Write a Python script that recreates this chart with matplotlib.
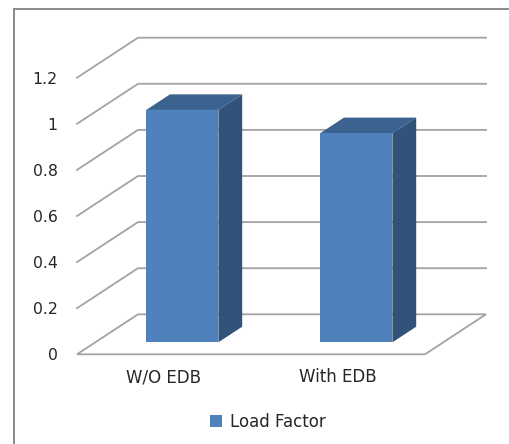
import matplotlib
matplotlib.use('Agg')
import matplotlib.pyplot as plt
from matplotlib.patches import Polygon, Rectangle

categories = ['W/O EDB', 'With EDB']
load_factor = [1.0, 0.9]
y_ticks = [0, 0.2, 0.4, 0.6, 0.8, 1, 1.2]
y_tick_labels = ['0', '0.2', '0.4', '0.6', '0.8', '1', '1.2']

W, H = 510, 444
FRONT_L, FRONT_R, FRONT_B, FRONT_T = 77, 425, 354.3, 77.7

# oblique offset of the back wall, in data units
DEPTH_X = 61 / 174
DEPTH_Y = 40 / ((FRONT_B - FRONT_T) / 1.2)
BAR_WIDTH = 0.415
BAR_D0, BAR_D1 = 0.30, 0.69
# bars sit nearer the viewer than the back wall, so they rise a little more
BAR_RISE = 1.008

FRONT = '#4f81bd'
TOP = '#3c6390'
SIDE = '#325379'
GRID = '#a3a3a3'
TEXT = '#262626'

plt.rcParams['font.family'] = ['DejaVu Sans']

fig = plt.figure(figsize=(W / 100, H / 100), dpi=100, facecolor='white')
ax = fig.add_axes([FRONT_L / W, 1 - FRONT_B / H, (FRONT_R - FRONT_L) / W, (FRONT_B - FRONT_T) / H])
ax.set_xlim(0, 2)
ax.set_ylim(0, 1.2)
ax.patch.set_visible(False)
for s in ax.spines.values():
    s.set_visible(False)

def shift(x, y, d):
    return x + d * DEPTH_X, y + d * DEPTH_Y

# chart frame, runs off the right and bottom edges
fig.add_artist(Rectangle((14 / W, -0.05), 1.1, 1 - 9 / H + 0.05, transform=fig.transFigure,
                         fill=False, edgecolor='#8a8a8a', linewidth=1.4))

# floor outline
floor = [shift(0, 0, 0), shift(2, 0, 0), shift(2, 0, 1), shift(0, 0, 1)]
ax.add_patch(Polygon(floor, closed=True, fill=False, edgecolor=GRID, linewidth=1.3, clip_on=False, zorder=1))

# side wall and back wall gridlines
for t in y_ticks[1:]:
    bx0, by0 = shift(0, t, 1)
    bx1, by1 = shift(2, t, 1)
    ax.plot([0, bx0, bx1], [t, by0, by1], color=GRID, linewidth=1.3, clip_on=False, zorder=1)

xpos = [i + 0.5 for i in range(len(categories))]
heights = [v * BAR_RISE for v in load_factor]
for x, v in zip(xpos, heights):
    l = x - BAR_WIDTH / 2
    r = x + BAR_WIDTH / 2
    a = shift(l, v, BAR_D0)
    b = shift(r, v, BAR_D0)
    c = shift(r, v, BAR_D1)
    d = shift(l, v, BAR_D1)
    e = shift(r, 0, BAR_D0)
    f = shift(r, 0, BAR_D1)
    ax.add_patch(Polygon([a, b, c, d], closed=True, facecolor=TOP, edgecolor='none', clip_on=False, zorder=3))
    ax.add_patch(Polygon([b, c, f, e], closed=True, facecolor=SIDE, edgecolor='none', clip_on=False, zorder=3))

bar_x = [shift(x, 0, BAR_D0)[0] for x in xpos]
bar_y0 = shift(0, 0, BAR_D0)[1]
ax.bar(bar_x, heights, width=BAR_WIDTH, bottom=bar_y0, color=FRONT, label='Load Factor', zorder=4, clip_on=False)

ax.set_xticks(xpos)
ax.set_xticklabels(categories, fontsize=12, color=TEXT)
ax.set_yticks(y_ticks)
ax.set_yticklabels(y_tick_labels, fontsize=11.3, color=TEXT)
ax.tick_params(axis='x', length=0, pad=10)
ax.tick_params(axis='y', length=0, pad=14)

ax.legend(loc='center', bbox_to_anchor=(268 / W, 1 - 422 / H), bbox_transform=fig.transFigure,
          frameon=False, fontsize=12, handlelength=0.7, handleheight=0.7, handletextpad=0.5,
          labelcolor=TEXT)

fig.savefig('out.png', dpi=100)
